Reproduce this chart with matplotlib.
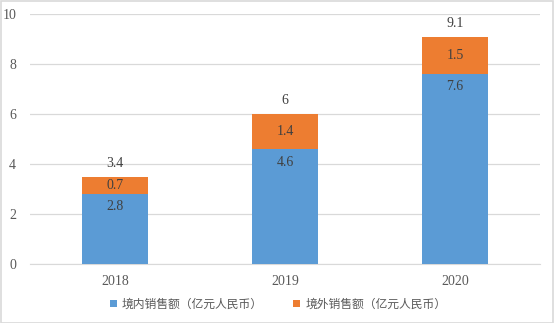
import matplotlib
matplotlib.use("Agg")
import matplotlib.pyplot as plt
from matplotlib.patches import Rectangle

categories = ["2018", "2019", "2020"]
domestic = [2.8, 4.6, 7.6]
overseas = [0.7, 1.4, 1.5]
total_labels = ["3.4", "6", "9.1"]
series_names = ["境内销售额（亿元人民币）", "境外销售额（亿元人民币）"]
yticks = [0, 2, 4, 6, 8, 10]

blue = "#5B9BD5"
orange = "#ED7D31"
grey_text = "#595959"
grid_c = "#D9D9D9"
serif = ["Liberation Serif", "DejaVu Serif"]
cjk = ["Noto Sans CJK SC", "DejaVu Sans"]

W, H = 554, 323
fig = plt.figure(figsize=(W / 100, H / 100), dpi=100)
ax = fig.add_axes([30 / W, (H - 264) / H, 510 / W, 250 / H])

x = list(range(len(categories)))
bw = 0.39
b1 = ax.bar(x, domestic, bw, color=blue, label=series_names[0], zorder=3)
b2 = ax.bar(x, overseas, bw, bottom=domestic, color=orange, label=series_names[1], zorder=3)

ax.set_xlim(-0.5, len(categories) - 0.5)
ax.set_ylim(0, 10)
ax.set_yticks(yticks)
ax.set_xticks(x)
ax.set_xticklabels(categories)
ax.grid(axis="y", color=grid_c, linewidth=0.9, zorder=0)
for s in ["top", "right", "left"]:
    ax.spines[s].set_visible(False)
ax.spines["bottom"].set_color(grid_c)
ax.tick_params(axis="both", length=0, colors=grey_text, labelsize=10)
ax.tick_params(axis="x", pad=8)
ax.tick_params(axis="y", pad=10)
for lab in ax.get_xticklabels() + ax.get_yticklabels():
    lab.set_family(serif)

for i in x:
    ax.annotate(f"{domestic[i]}", (i, domestic[i]), xytext=(0, -13), textcoords="offset pixels",
                ha="center", va="center", fontsize=10, color="#404040", family=serif, zorder=4)
    ax.annotate(f"{overseas[i]}", (i, domestic[i] + overseas[i] / 2), ha="center", va="center",
                fontsize=10, color="#404040", family=serif, zorder=4)
    ax.annotate(total_labels[i], (i, domestic[i] + overseas[i]), xytext=(0, 13), textcoords="offset pixels",
                ha="center", va="center", fontsize=10, color="#404040", family=serif, zorder=4)

leg = fig.legend(handles=[b1, b2], labels=series_names, loc="center", bbox_to_anchor=(278 / W, (H - 304) / H),
                 ncol=2, frameon=False, prop={"family": cjk, "size": 8.5}, handlelength=0.6, handleheight=0.6,
                 handletextpad=0.4, columnspacing=2.6, labelcolor=grey_text)

fig.patches.append(Rectangle((0.5 / W, 0.5 / H), 1 - 1.5 / W, 1 - 1.5 / H, transform=fig.transFigure,
                             fill=False, edgecolor=grid_c, linewidth=1.2))

fig.savefig("out.png", dpi=100)
